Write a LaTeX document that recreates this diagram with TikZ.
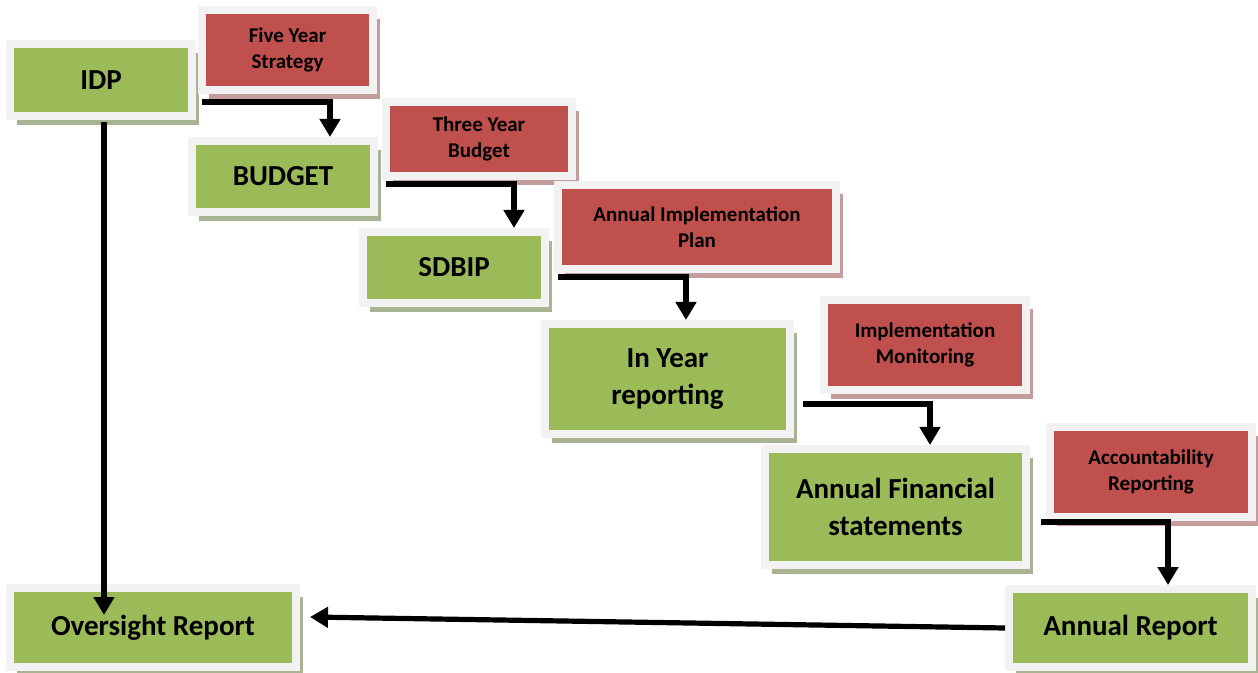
\documentclass[tikz,border=0pt]{standalone}
\usepackage{fontspec}
\setmainfont{Carlito}
\usetikzlibrary{positioning, arrows.meta, shadows}
\definecolor{boxgreen}{HTML}{9BBB59}
\definecolor{boxred}{HTML}{C0504D}
\definecolor{framegray}{HTML}{F2F2F2}
\definecolor{greenshade}{HTML}{A7B392}
\definecolor{redshade}{HTML}{C39C9C}

\begin{document}
\begin{tikzpicture}[x=0.5pt, y=-0.5pt,
    card/.style={draw=framegray, line width=4pt, align=center, inner sep=0pt},
    gbox/.style={card, fill=boxgreen, font=\fontsize{14.5}{18.5}\selectfont\bfseries,
        drop shadow={shadow xshift=3.5pt, shadow yshift=-4.5pt, fill=greenshade, opacity=1}},
    rbox/.style={card, fill=boxred, font=\fontsize{10.5}{13}\selectfont\bfseries,
        drop shadow={shadow xshift=3.5pt, shadow yshift=-4.5pt, fill=redshade, opacity=1}},
    flow/.style={line width=2.6pt, -{Triangle[width=10pt, length=9pt]}}]
    \useasboundingbox (0,0) rectangle (1258,673);
    \node[gbox, minimum width=91pt, minimum height=36pt] (idp) at (101,80) {IDP};
    \node[rbox, minimum width=85.5pt, minimum height=40pt] (fivey) at (287.5,50) {Five Year\\Strategy};
    \node[gbox, minimum width=91pt, minimum height=35.5pt] (budget) at (283,176.5) {BUDGET};
    \node[rbox, minimum width=93pt, minimum height=37pt] (threey) at (479,139) {Three Year\\Budget};
    \node[gbox, minimum width=91pt, minimum height=35.5pt] (sdbip) at (454,267.5) {SDBIP};
    \node[rbox, minimum width=139pt, minimum height=42pt] (aip) at (697,227) {Annual Implementation\\Plan};
    \node[gbox, minimum width=122.5pt, minimum height=55pt] (inyear) at (667.5,379) {In Year\\reporting};
    \node[rbox, minimum width=101pt, minimum height=45pt] (implmon) at (925,345) {Implementation\\Monitoring};
    \node[gbox, minimum width=130.5pt, minimum height=58pt] (afs) at (895.5,507) {Annual Financial\\statements};
    \node[rbox, minimum width=101pt, minimum height=45pt] (accrep) at (1151,472) {Accountability\\Reporting};
    \node[gbox, minimum width=121.5pt, minimum height=39pt] (annrep) at (1130.5,628) {Annual Report};
    \node[gbox, minimum width=143pt, minimum height=39.5pt] (over) at (153,627.5) {Oversight Report};

    \coordinate (s1) at (202,102);
    \coordinate (s2) at (386,184);
    \coordinate (s3) at (558,277);
    \coordinate (s4) at (803,404);
    \coordinate (s5) at (1041,522);
    \coordinate (s0) at (104,122);
    \coordinate (e0) at (104,615);
    \coordinate (e6) at (310,617);
    \draw[flow] (s1) -| (330,0 |- budget.north);
    \draw[flow] (s2) -| (514,0 |- sdbip.north);
    \draw[flow] (s3) -| (686,0 |- inyear.north);
    \draw[flow] (s4) -| (930,0 |- afs.north);
    \draw[flow] (s5) -| (1168,0 |- annrep.north);
    \draw[flow] (s0) -- (e0);
    \draw[flow] (annrep.west) -- (e6);
\end{tikzpicture}
\end{document}
